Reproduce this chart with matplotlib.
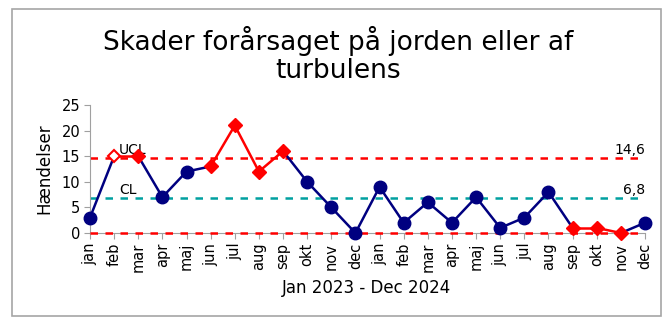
import numpy as np
import matplotlib as mpl
import matplotlib.pyplot as plt
from matplotlib.patches import Rectangle

mpl.rcParams['font.family'] = 'DejaVu Sans'

months = ['jan', 'feb', 'mar', 'apr', 'maj', 'jun', 'jul', 'aug', 'sep', 'okt', 'nov', 'dec',
          'jan', 'feb', 'mar', 'apr', 'maj', 'jun', 'jul', 'aug', 'sep', 'okt', 'nov', 'dec']
values = [3, 15, 15, 7, 12, 13, 21, 12, 16, 10, 5, 0,
          9, 2, 6, 2, 7, 1, 3, 8, 1, 1, 0, 2]
# 0 = normal, 1 = signal (red diamond), 2 = open red diamond
signal = [0, 2, 1, 0, 0, 1, 1, 1, 1, 0, 0, 0,
          0, 0, 0, 0, 0, 0, 0, 0, 1, 1, 1, 0]
ucl = 14.6
cl = 6.8
lcl = 0.0

navy = '#000080'
red = '#ff0000'
teal = '#00a0a0'

x = np.arange(len(values))

fig = plt.figure(figsize=(6.72, 3.25), dpi=100)
fig.patches.append(Rectangle((12/672, 9/325), 649/672, 307/325, transform=fig.transFigure,
                             fill=False, edgecolor='#a6a6a6', lw=1.2))
ax = fig.add_axes([90/672, (325-233)/325, 555/672, 128/325])

ax.axhline(ucl, color=red, ls=(0, (3, 3)), lw=1.8, zorder=1)
ax.axhline(cl, color=teal, ls=(0, (3, 3)), lw=1.8, zorder=1)
ax.axhline(lcl, color=red, ls=(0, (3, 3)), lw=1.8, zorder=3, clip_on=False)

# line segments: red between two signal points
for i in range(len(values) - 1):
    c = red if (signal[i] and signal[i+1]) else navy
    ax.plot(x[i:i+2], values[i:i+2], color=c, lw=1.8, zorder=2, clip_on=False)

for i in range(len(values)):
    if signal[i] == 0:
        ax.plot(x[i], values[i], 'o', ms=9, color=navy, zorder=4, clip_on=False)
    elif signal[i] == 1:
        ax.plot(x[i], values[i], 'D', ms=7, color=red, zorder=4, clip_on=False)
    else:
        ax.plot(x[i], values[i], 'D', ms=6.5, mfc='white', mec=red, mew=1.5, zorder=4, clip_on=False)

ax.set_xlim(0, len(values) - 1)
ax.set_ylim(0, 25)
ax.set_yticks([0, 5, 10, 15, 20, 25])
ax.set_xticks(x)
ax.set_xticklabels(months, rotation=90, fontsize=10.5)
ax.tick_params(axis='y', labelsize=10.5, length=4, color='#a0a0a0', pad=3)
ax.tick_params(axis='x', length=4, color='#a0a0a0', pad=3)
for s in ['top', 'right']:
    ax.spines[s].set_visible(False)
ax.spines['left'].set_color('#a0a0a0')
ax.spines['bottom'].set_color('#a0a0a0')

ax.text(1.2, ucl + 0.3, 'UCL', fontsize=10, va='bottom')
ax.text(1.2, cl + 0.3, 'CL', fontsize=10, va='bottom')
ax.text(23, ucl + 0.3, '14,6', fontsize=10, va='bottom', ha='right')
ax.text(23, cl + 0.3, '6,8', fontsize=10, va='bottom', ha='right')

ax.set_ylabel('Hændelser', fontsize=12, labelpad=6)
fig.text(367/672, 1 - 288/325, 'Jan 2023 - Dec 2024', fontsize=12, ha='center', va='center')
fig.text(338/672, 1 - 55/325, 'Skader forårsaget på jorden eller af\nturbulens', fontsize=19,
         ha='center', va='center', linespacing=1.1)

fig.savefig('out.png', dpi=100)
